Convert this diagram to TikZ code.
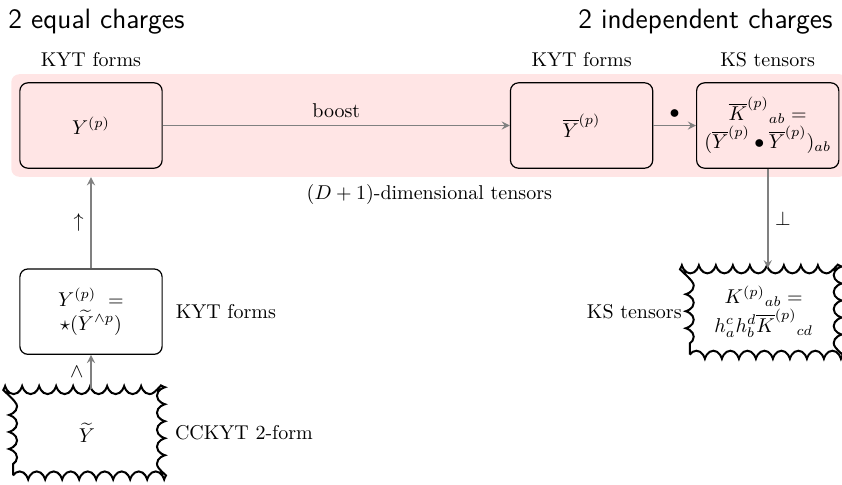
\documentclass[tikz,border=0pt]{standalone}
\usepackage{fontspec}
\usepackage{amsmath}
\usepackage{amssymb}
\usetikzlibrary{shapes,arrows,positioning,calc,fit,backgrounds,decorations.pathmorphing}

\begin{document}
\begin{tikzpicture}[
    form/.style={rectangle, draw, semithick, rounded corners, minimum width=2.5cm, minimum height=1.5cm, align=center},
    wavy/.style={rectangle, draw, line width=1pt, decorate, decoration={coil, aspect=0.6, amplitude=2pt, segment length=8.5pt}, minimum width=2.6cm, minimum height=1.5cm, align=center},
    arrow/.style={-stealth, thick, gray},
    heading/.style={font=\fontsize{14}{17}\selectfont\sffamily, inner sep=0pt},
    node distance=0.75cm
]
    \useasboundingbox (0,0) rectangle (421pt,-242pt);

    % Headings
    \node[heading, anchor=base west] (eqhead) at (4pt,-14pt) {2 equal charges};
    \node[heading, anchor=base east] (indhead) at (416.5pt,-14pt) {2 independent charges};

    % Top row
    \node[form] (ybox) at (45.5pt,-62.75pt) {$Y^{(p)}$};
    \node[form, right=6.1cm of ybox] (ybar) {$\overline{Y}^{(p)}$};
    \node[form, right=of ybar] (kbar) {$\overline{K}^{(p)}{}_{ab} =$\\$(\overline{Y}^{(p)}\bullet\overline{Y}^{(p)})_{ab}$};

    % Shaded band behind the top row
    \begin{scope}[on background layer]
        \node[fit=(ybox)(ybar)(kbar), fill=red!10, rounded corners, inner sep=4pt] (band) {};
    \end{scope}

    % Lower boxes
    \node[form, below=1.75cm of ybox] (ystar) {$Y^{(p)}\ =$\\$\star(\widetilde{Y}^{\wedge p})$};
    \node[wavy, below=0.6cm of ystar, xshift=-2pt] (ytilde) {$\widetilde{Y}$};
    \node[wavy, below=1.75cm of kbar, xshift=-2pt] (kwavy) {$K^{(p)}{}_{ab} =$\\$h_a^c h_b^d \overline{K}^{(p)}{}_{cd}$};

    % Arrows
    \draw[arrow] (ybox) -- node[above, black] {boost} (ybar);
    \draw[arrow] (ybar) -- node[above, black] {$\bullet$} (kbar);
    \draw[arrow] (kbar) -- node[right, black] {$\perp$} (kbar |- kwavy.north);
    \draw[arrow] (ystar) -- node[left, black] {$\uparrow$} (ystar |- band.south);
    \draw[arrow] (ytilde.north -| ystar) -- node[left, black] {$\wedge$} (ystar);

    % Labels
    \node[above] (toplbl1) at (ybox |- band.north) {KYT forms};
    \node[above] (toplbl2) at (ybar |- band.north) {KYT forms};
    \node[above] (toplbl3) at (kbar |- band.north) {KS tensors};
    \node[below] (dimlbl) at (band.south) {$(D+1)$-dimensional tensors};
    \node[right=3pt of ystar] (starlbl) {KYT forms};
    \node[right=3pt of ytilde] (tildelbl) {CCKYT 2-form};
    \node[left=0pt of kwavy] (kslbl) {KS tensors};

\end{tikzpicture}
\end{document}
